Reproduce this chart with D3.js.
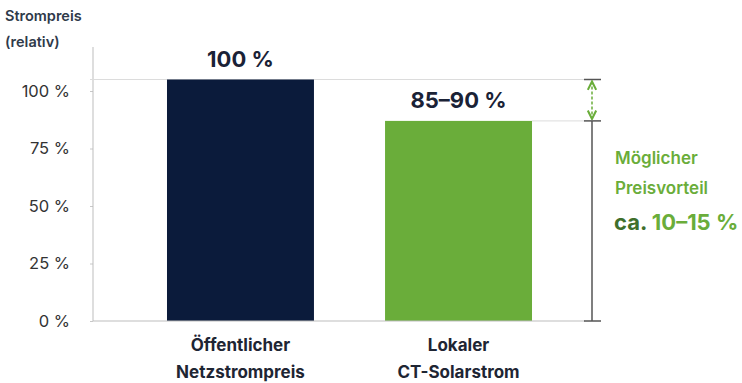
<!DOCTYPE html>
<html>
<head>
<meta charset="utf-8">
<script src="https://cdn.jsdelivr.net/npm/d3@7"></script>
<style>
  body { margin: 0; background: #fff; }
  svg { display: block; font-family: Inter, "Noto Sans", sans-serif; }
</style>
</head>
<body>
<svg width="742" height="383"></svg>
<script>
const categories = [["Öffentlicher", "Netzstrompreis"], ["Lokaler", "CT-Solarstrom"]]
const barValues = [105, 87]
const barLabels = ["100 %", "85–90 %"]
const barColors = ["#0b1b3b", "#6aad3a"]
const yTicks = [0, 25, 50, 75, 100]
const axisTitle = ["Strompreis", "(relativ)"]
const noteLines = ["Möglicher", "Preisvorteil"]

const svg = d3.select("svg")
const dims = { left: 93, right: 602, top: 47, base: 321, bracketX: 592 }

const x = d3.scaleBand()
  .domain(d3.range(categories.length))
  .range([dims.left + 4, dims.right])
  .paddingInner(0.326)
  .paddingOuter(0.321)

const y = d3.scaleLinear()
  .domain([0, 100])
  .range([dims.base, 91])

// axis title
svg.selectAll("text.title").data(axisTitle).enter().append("text")
  .attr("class", "title")
  .attr("x", 5)
  .attr("y", (d, i) => 21 + i * 26)
  .attr("font-size", 14.5)
  .attr("font-weight", 600)
  .attr("fill", "#2f3a4a")
  .text(d => d)

// y axis
const yAxis = svg.append("g")
  .attr("transform", `translate(${dims.left},0)`)
  .call(d3.axisLeft(y).tickValues(yTicks).tickSize(3).tickPadding(20).tickFormat(d => d + " %"))
yAxis.select(".domain").remove()
yAxis.selectAll(".tick line").attr("stroke", "#c8c8c8")
yAxis.selectAll(".tick text")
  .attr("font-size", 16.5)
  .attr("fill", "#333")
  .attr("font-family", "Inter, sans-serif")
svg.append("line")
  .attr("x1", dims.left).attr("x2", dims.left)
  .attr("y1", dims.top).attr("y2", dims.base)
  .attr("stroke", "#bdbdbd")

// reference lines at bar tops
const topY = barValues.map(v => y(v))
svg.append("line")
  .attr("x1", dims.left - 3).attr("x2", 585)
  .attr("y1", topY[0]).attr("y2", topY[0])
  .attr("stroke", "#dcdcdc")
svg.append("line")
  .attr("x1", x(1) + x.bandwidth()).attr("x2", 585)
  .attr("y1", topY[1]).attr("y2", topY[1])
  .attr("stroke", "#dcdcdc")

// bars
svg.selectAll("rect.bar").data(barValues).enter().append("rect")
  .attr("class", "bar")
  .attr("x", (d, i) => x(i))
  .attr("y", d => y(d))
  .attr("width", x.bandwidth())
  .attr("height", d => dims.base - y(d))
  .attr("fill", (d, i) => barColors[i])

// baseline
svg.append("line")
  .attr("x1", dims.left).attr("x2", 585)
  .attr("y1", dims.base).attr("y2", dims.base)
  .attr("stroke", "#bdbdbd")

// value labels
svg.selectAll("text.val").data(barValues).enter().append("text")
  .attr("class", "val")
  .attr("x", (d, i) => x(i) + x.bandwidth() / 2)
  .attr("y", d => y(d) - 13)
  .attr("text-anchor", "middle")
  .attr("font-size", 22)
  .attr("font-weight", 700)
  .attr("fill", "#1a2236")
  .text((d, i) => barLabels[i])

// category labels
categories.forEach((lines, i) => {
  svg.selectAll(null).data(lines).enter().append("text")
    .attr("x", x(i) + x.bandwidth() / 2)
    .attr("y", (d, j) => 351 + j * 27)
    .attr("text-anchor", "middle")
    .attr("font-size", 17)
    .attr("font-weight", 700)
    .attr("fill", "#1e2533")
    .text(d => d)
})

// bracket on the right
const bx = dims.bracketX
;[topY[0], topY[1], dims.base].forEach(yy => {
  svg.append("line")
    .attr("x1", bx - 8).attr("x2", bx + 9)
    .attr("y1", yy).attr("y2", yy)
    .attr("stroke", "#555").attr("stroke-width", 1.5)
})
svg.append("line")
  .attr("x1", bx).attr("x2", bx)
  .attr("y1", topY[1]).attr("y2", dims.base)
  .attr("stroke", "#555").attr("stroke-width", 1.5)

// green double arrow
const defs = svg.append("defs")
defs.append("marker")
  .attr("id", "arr")
  .attr("viewBox", "0 0 10 10")
  .attr("refX", 9).attr("refY", 5)
  .attr("markerWidth", 7).attr("markerHeight", 7)
  .attr("orient", "auto-start-reverse")
  .append("path")
  .attr("d", "M1,1 L9,5 L1,9")
  .attr("fill", "none")
  .attr("stroke", "#6aad3a")
  .attr("stroke-width", 2)
svg.append("line")
  .attr("x1", bx).attr("x2", bx)
  .attr("y1", topY[0] + 2).attr("y2", topY[1] - 2)
  .attr("stroke", "#6aad3a")
  .attr("stroke-width", 1.5)
  .attr("stroke-dasharray", "3,2")
  .attr("marker-start", "url(#arr)")
  .attr("marker-end", "url(#arr)")

// note text
svg.selectAll("text.note").data(noteLines).enter().append("text")
  .attr("class", "note")
  .attr("x", 615)
  .attr("y", (d, i) => 164 + i * 30)
  .attr("font-size", 17)
  .attr("font-weight", 600)
  .attr("fill", "#6aad3a")
  .text(d => d)
const big = svg.append("text")
  .attr("x", 614)
  .attr("y", 230)
  .attr("font-size", 22)
  .attr("font-weight", 700)
big.append("tspan").attr("fill", "#3f6f2c").text("ca. ")
big.append("tspan").attr("fill", "#6aad3a").text("10–15 %")
</script>
</body>
</html>
